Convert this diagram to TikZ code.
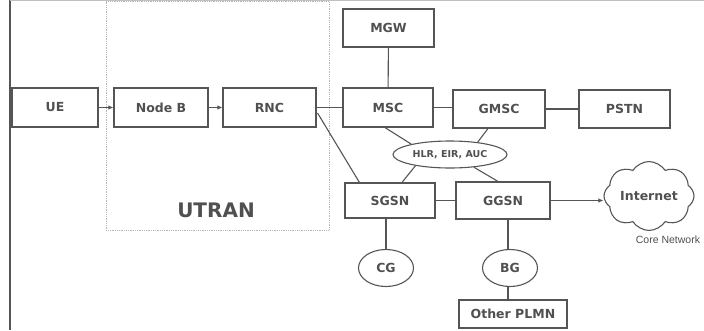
\documentclass[tikz,border=0pt]{standalone}
\usepackage{fontspec}
\setmainfont{DejaVu Sans}
\newfontfamily\labelfont{Liberation Sans}
\usetikzlibrary{arrows.meta,calc,positioning,shapes.geometric,shapes.symbols}
\definecolor{umline}{RGB}{85,85,85}
\definecolor{umtext}{RGB}{80,80,80}
\definecolor{umframe}{RGB}{150,150,150}

\begin{document}
\begin{tikzpicture}[x=1pt,y=-1pt,>={Latex[length=5pt,width=4.5pt]},
    every node/.style={align=center,text=umtext},
    netbox/.style={draw=umline,line width=1.1pt,font=\bfseries\fontsize{12.5}{14}\selectfont,inner sep=0pt},
    netoval/.style={draw=umline,line width=1.1pt,ellipse,font=\bfseries\fontsize{12.5}{14}\selectfont,inner sep=0pt},
    link/.style={draw=umline,line width=1.1pt}]
    \useasboundingbox (0,0) rectangle (704,330);
    % frame and access network area
    \draw[umline,line width=1.3pt] (10,0) -- (10,330);
    \draw[umframe!60,line width=0.8pt] (10,0.6) -- (704,0.6);
    \draw[umframe!70,line width=0.8pt,densely dotted] (106,1.5) rectangle (329,230);
    \node[font=\bfseries\fontsize{20}{22}\selectfont] (utran) at (216,210) {UTRAN};
    % nodes
    \node[netbox,minimum width=86pt,minimum height=39pt] (ue) at (55,107.5) {UE};
    \node[netbox,minimum width=94pt,minimum height=39pt] (nodeb) at (161,107.5) {Node B};
    \node[netbox,minimum width=93pt,minimum height=39pt] (rnc) at (269.5,107.5) {RNC};
    \node[netbox,minimum width=91pt,minimum height=38pt] (mgw) at (388.5,28) {MGW};
    \node[netbox,minimum width=90pt,minimum height=39pt] (msc) at (388,107.5) {MSC};
    \node[netbox,minimum width=92pt,minimum height=38pt] (gmsc) at (499,109) {GMSC};
    \node[netbox,minimum width=91pt,minimum height=38pt] (pstn) at (624.5,109) {PSTN};
    \node[netoval,minimum width=114pt,minimum height=27pt,font=\bfseries\fontsize{9.5}{11}\selectfont] (hlr) at (450,154.5) {HLR, EIR, AUC};
    \node[netbox,minimum width=90pt,minimum height=35pt] (sgsn) at (390,200.5) {SGSN};
    \node[netbox,minimum width=94pt,minimum height=37pt] (ggsn) at (503,200.5) {GGSN};
    \node[netoval,minimum width=55pt,minimum height=37pt] (cg) at (386,268) {CG};
    \node[netoval,minimum width=55pt,minimum height=37pt] (bg) at (510,268) {BG};
    \node[netbox,minimum width=108pt,minimum height=28pt] (plmn) at (513,314) {Other PLMN};
    \node[cloud,cloud puffs=8,cloud puff arc=115,aspect=1.45,draw=umline,line width=1.1pt,
          minimum width=90pt,minimum height=64pt,inner sep=0pt,
          font=\bfseries\fontsize{12.5}{14}\selectfont] (internet) at (649,196) {Internet};
    \node[font=\labelfont\fontsize{10.5}{12}\selectfont] (corenet) at (668,240) {Core Network};
    % connectors
    \draw[link,->] (ue) -- (nodeb);
    \draw[link,->] (nodeb) -- (rnc);
    \draw[link] (rnc) -- (msc);
    \draw[link] ($(rnc.east)+(1,5.5)$) -- ($(sgsn.north west)+(15,0)$);
    \draw[link] (mgw) -- (msc);
    \draw[link] (msc.east) -- (msc.east -| gmsc.west);
    \draw[link] (gmsc) -- (pstn);
    \draw[link] ($(msc.south)+(-3,0)$) -- (hlr.165);
    \draw[link] ($(gmsc.south)+(-11,0)$) -- (hlr.24);
    \draw[link] (hlr.198) -- ($(sgsn.north)+(12,0)$);
    \draw[link] (hlr.332) -- ($(ggsn.north)+(-5,0)$);
    \draw[link] (sgsn) -- (ggsn);
    \draw[link] (sgsn.south -| cg.north) -- (cg.north);
    \draw[link] ($(ggsn.south)+(5,0)$) -- ($(bg.north)+(-2,0)$);
    \draw[link] ($(bg.south)+(-2,0)$) -- ($(plmn.north)+(-5,0)$);
    \draw[link,->] (ggsn.east) -- (ggsn.east -| internet.west);
\end{tikzpicture}
\end{document}
